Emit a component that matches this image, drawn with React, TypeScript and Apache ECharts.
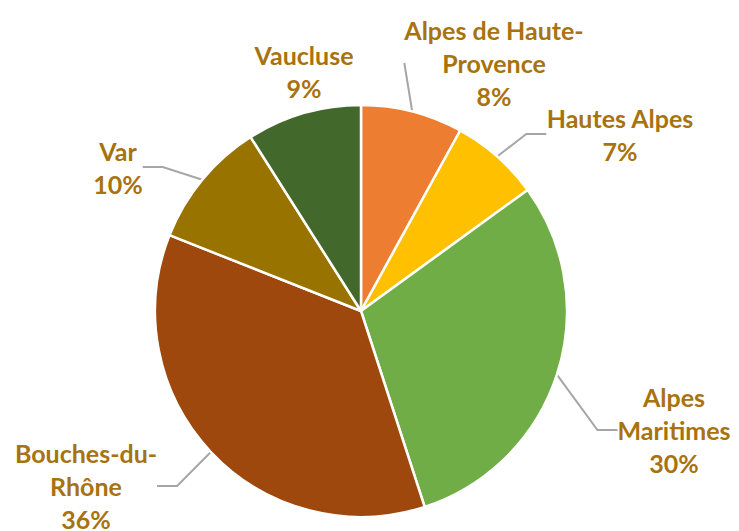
import React, { useEffect, useRef } from "react";
import * as echarts from "echarts";

const categories = [
  "Alpes de Haute-\nProvence",
  "Hautes Alpes",
  "Alpes\nMaritimes",
  "Bouches-du-\nRhône",
  "Var",
  "Vaucluse",
];
const values = [8, 7, 30, 36, 10, 9];
const colors = ["#ED7D31", "#FFC000", "#70AD47", "#9E480E", "#997300", "#43682B"];
// label centres (layout only)
const labelPos: [number, number][] = [
  [494, 63],
  [620, 134],
  [674, 430],
  [86, 486],
  [118, 167],
  [304, 71],
];
const showLeader = [true, true, true, true, true, false];

export default function App() {
  const ref = useRef<HTMLDivElement>(null);
  useEffect(() => {
    document.body.style.margin = "0";
    const chart = echarts.init(ref.current!, undefined, { renderer: "svg" });
    chart.setOption({
      animation: false,
      backgroundColor: "#ffffff",
      series: [
        {
          type: "pie",
          center: [361, 311],
          radius: 206,
          startAngle: 90,
          clockwise: true,
          percentPrecision: 0,
          itemStyle: { borderColor: "#ffffff", borderWidth: 2.5 },
          label: {
            show: true,
            formatter: "{b}\n{d}%",
            color: "#A8720F",
            fontFamily: "Lato",
            fontWeight: "bold",
            fontSize: 25,
            lineHeight: 33,
            align: "center",
          },
          labelLine: {
            show: true,
            length: 15,
            length2: 20,
            lineStyle: { color: "#A6A6A6", width: 2 },
          },
          labelLayout: (p: any) => ({
            x: labelPos[p.dataIndex][0],
            y: labelPos[p.dataIndex][1],
            align: "center",
            verticalAlign: "middle",
          }),
          data: categories.map((c, i) => ({
            name: c,
            value: values[i],
            itemStyle: { color: colors[i] },
            labelLine: { show: showLeader[i] },
          })),
        },
      ],
    });
    return () => chart.dispose();
  }, []);
  return <div ref={ref} style={{ width: 739, height: 531 }} />;
}
